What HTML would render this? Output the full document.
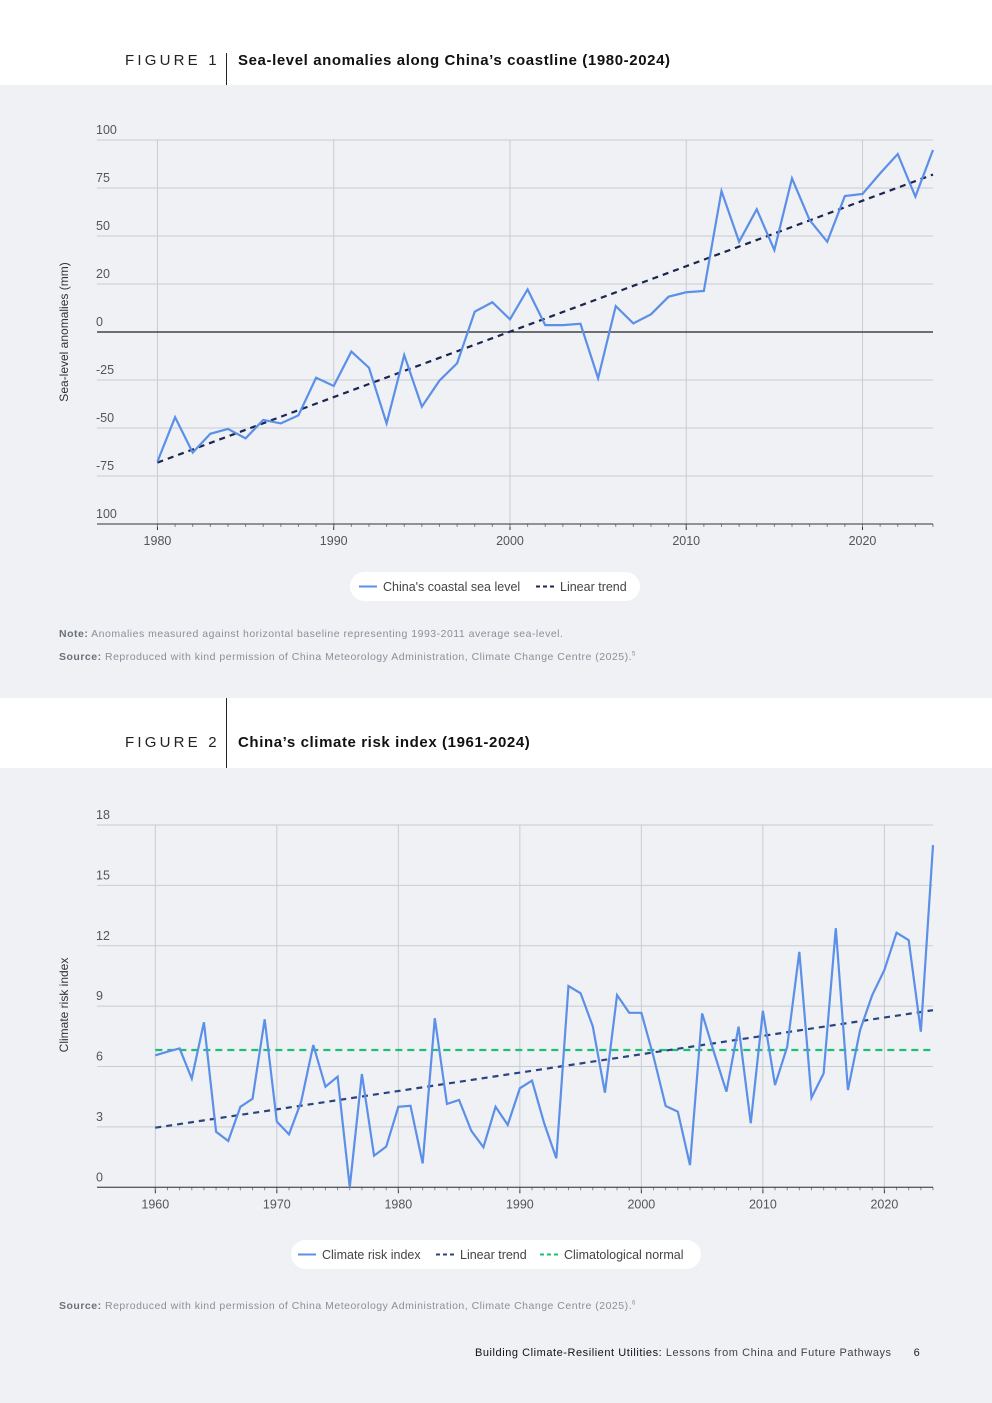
<!DOCTYPE html>
<html><head><meta charset="utf-8"><style>
body{margin:0;width:992px;height:1403px;position:relative;background:#fff;font-family:"Liberation Sans",sans-serif;overflow:hidden}
.panel{position:absolute;left:0;width:992px;background:#eff1f5}
.abs{position:absolute;white-space:nowrap}
.fig{font-size:15px;letter-spacing:3.2px;color:#222}
.ttl{font-size:15px;font-weight:bold;color:#111;letter-spacing:0.6px}
.div{position:absolute;width:1px;background:#222}
.note{font-size:10.5px;color:#8a8f99;letter-spacing:0.5px}
.note b{color:#6a707a}
svg text{font-family:"Liberation Sans",sans-serif}
</style></head><body>
<div class="panel" style="top:85px;height:613px"></div>
<div class="panel" style="top:768px;height:635px"></div>

<div class="abs fig" style="left:125px;top:52px">FIGURE 1</div>
<div class="div" style="left:226px;top:53px;height:32px"></div>
<div class="abs ttl" style="left:238px;top:52px">Sea-level anomalies along China’s coastline (1980-2024)</div>

<div class="abs fig" style="left:125px;top:734px">FIGURE 2</div>
<div class="div" style="left:226px;top:698px;height:70px"></div>
<div class="abs ttl" style="left:238px;top:734px">China’s climate risk index (1961-2024)</div>

<svg id="c1" class="abs" style="left:0;top:0" width="992" height="700"></svg>
<svg id="c2" class="abs" style="left:0;top:0" width="992" height="1403"></svg>

<div class="abs note" style="left:59px;top:628px"><b>Note:</b> Anomalies measured against horizontal baseline representing 1993-2011 average sea-level.</div>
<div class="abs note" style="left:59px;top:651px"><b>Source:</b> Reproduced with kind permission of China Meteorology Administration, Climate Change Centre (2025).<sup style="font-size:6px">5</sup></div>
<div class="abs note" style="left:59px;top:1300px"><b>Source:</b> Reproduced with kind permission of China Meteorology Administration, Climate Change Centre (2025).<sup style="font-size:6px">6</sup></div>
<div class="abs" style="left:475px;top:1347px;font-size:11px;color:#222;letter-spacing:0.55px"><span style="color:#111">Building Climate-Resilient Utilities:</span> <span style="color:#444">Lessons from China and Future Pathways</span><span style="margin-left:22px">6</span></div>

<script>
// ---- Figure 1 data ----
const years1 = [1980,1981,1982,1983,1984,1985,1986,1987,1988,1989,1990,1991,1992,1993,1994,1995,1996,1997,1998,1999,2000,2001,2002,2003,2004,2005,2006,2007,2008,2009,2010,2011,2012,2013,2014,2015,2016,2017,2018,2019,2020,2021,2022,2023,2024];
const seaLevel = [-67.5,-44.4,-62.8,-53,-50.5,-55.4,-45.8,-47.6,-43.4,-23.8,-28.1,-10.2,-18.6,-47.6,-12,-38.9,-25.3,-16.3,10.6,15.5,6.6,22.2,3.6,3.6,4.3,-24.1,13.5,4.5,9.2,18.4,20.7,21.4,73.4,47,63.9,42.7,80,58.3,47,70.8,71.9,82.6,92.7,70.5,94.8];
const trend1 = [[1980,-68],[2024,82]];
const yTicks1 = [100,75,50,25,0,-25,-50,-75,-100];
const yTickLabels1 = ["100","75","50","20","0","-25","-50","-75","100"];
const xTicks1 = [1980,1990,2000,2010,2020];

// ---- Figure 2 data ----
const years2 = [1960,1961,1962,1963,1964,1965,1966,1967,1968,1969,1970,1971,1972,1973,1974,1975,1976,1977,1978,1979,1980,1981,1982,1983,1984,1985,1986,1987,1988,1989,1990,1991,1992,1993,1994,1995,1996,1997,1998,1999,2000,2001,2002,2003,2004,2005,2006,2007,2008,2009,2010,2011,2012,2013,2014,2015,2016,2017,2018,2019,2020,2021,2022,2023,2024];
const riskIndex = [6.56,6.74,6.9,5.4,8.2,2.76,2.3,4.0,4.4,8.35,3.26,2.63,4.25,7.07,5.0,5.5,0,5.63,1.57,2.02,4.0,4.05,1.19,8.4,4.14,4.34,2.81,1.99,4.0,3.1,4.92,5.3,3.18,1.44,10.0,9.64,8.0,4.7,9.55,8.67,8.67,6.49,4.04,3.76,1.1,8.64,6.66,4.75,7.98,3.18,8.77,5.08,6.98,11.7,4.45,5.66,12.87,4.83,7.81,9.55,10.8,12.65,12.28,7.73,17.0];
const trend2 = [[1960,2.96],[2024,8.8]];
const normal2 = [[1960,6.82],[2024,6.82]];
const yTicks2 = [0,3,6,9,12,15,18];
const xTicks2 = [1960,1970,1980,1990,2000,2010,2020];

const NS='http://www.w3.org/2000/svg';
function mk(svg,tag,attrs,text){const e=document.createElementNS(NS,tag);for(const k in attrs)e.setAttribute(k,attrs[k]);if(text!==undefined)e.textContent=text;svg.appendChild(e);return e;}

function chart(svg,o){
  const X=v=>o.x0+(v-o.d0)/(o.d1-o.d0)*(o.x1-o.x0);
  const Y=v=>o.yb+(v-o.r0)/(o.r1-o.r0)*(o.yt-o.yb);
  o.yTicks.forEach((t,i)=>{
    const g=mk(svg,'line',{x1:o.x0,x2:o.x1,y1:Y(t),y2:Y(t),stroke:'#c8ccd3','stroke-width':1});
    
    
    const l=mk(svg,'text',{x:96,y:Y(t)-6,'font-size':12.5,fill:'#555'},o.yLabels[i]);
    
    
  });
  o.xTicks.forEach(t=>{
    const g=mk(svg,'line',{x1:X(t),x2:X(t),y1:o.yt,y2:o.yb,stroke:'#c8ccd3','stroke-width':1});
    
    
    const tk=mk(svg,'line',{x1:X(t),x2:X(t),y1:o.yb,y2:o.yb+6,stroke:'#333'});
    
    
    const l=mk(svg,'text',{x:X(t),y:o.yb+21,'font-size':12.5,fill:'#555','text-anchor':'middle'},String(t));
    
    
  });
  o.years.forEach(t=>{
    const tk=mk(svg,'line',{x1:X(t),x2:X(t),y1:o.yb,y2:o.yb+3,stroke:'#888'});
    
    
  });
  const ax=mk(svg,'line',{x1:o.x0,x2:o.x1,y1:o.yb,y2:o.yb,stroke:'#333'});
  
  
  if(o.zero){const z=mk(svg,'line',{x1:o.x0,x2:o.x1,y1:Y(0),y2:Y(0),stroke:'#222','stroke-width':1.2});
    
    }
  if(o.normal){const n=mk(svg,'line',{x1:X(o.normal[0][0]),x2:X(o.normal[1][0]),y1:Y(o.normal[0][1]),y2:Y(o.normal[1][1]),stroke:'#1dbf73','stroke-width':2.2,'stroke-dasharray':'7 5'});
    
    }
  const tr=mk(svg,'line',{x1:X(o.trend[0][0]),x2:X(o.trend[1][0]),y1:Y(o.trend[0][1]),y2:Y(o.trend[1][1]),stroke:o.trendColor,'stroke-width':2.2,'stroke-dasharray':'6 5'});
  
  
  const p=mk(svg,'polyline',{points:o.years.map((y,i)=>X(y)+','+Y(o.vals[i])).join(' '),fill:'none',stroke:'#5b8fe8','stroke-width':2.2,'stroke-linejoin':'miter'});
  
  
  const yt=mk(svg,'text',{x:0,y:0,'font-size':12,fill:'#333','text-anchor':'middle',transform:`translate(68,${o.ytY}) rotate(-90)`},o.ytitle);
  
  
}

const c1=document.getElementById('c1');
chart(c1,{x0:97,x1:933,d0:1976.57,d1:2024,yb:332+100*1.92,yt:332-100*1.92,r0:-100,r1:100,
  yTicks:yTicks1,yLabels:yTickLabels1,xTicks:xTicks1,years:years1,vals:seaLevel,trend:trend1,trendColor:'#1a2550',zero:true,ytitle:'Sea-level anomalies (mm)',ytY:332});
const c2=document.getElementById('c2');
chart(c2,{x0:97,x1:933,d0:1955.2,d1:2024,yb:1187.3,yt:825,r0:0,r1:18,
  yTicks:yTicks2,yLabels:yTicks2.map(String),xTicks:xTicks2,years:years2,vals:riskIndex,trend:trend2,trendColor:'#2a4480',normal:normal2,ytitle:'Climate risk index',ytY:1005});

function legend(svg,x,y,w,items){
  const r=mk(svg,'rect',{x:x,y:y,width:w,height:29,rx:14.5,fill:'#fff'});
  
  
  items.forEach(it=>{
    const l=mk(svg,'line',{x1:it.x,x2:it.x+18,y1:y+14.5,y2:y+14.5,stroke:it.c,'stroke-width':2,'stroke-dasharray':it.d||'none'});
    
    
    const t=mk(svg,'text',{x:it.x+24,y:y+19,'font-size':12.5,fill:'#444'},it.t);
    
    
  });
}
legend(c1,350,572,290,[{x:359,c:'#5b8fe8',t:"China's coastal sea level"},{x:536,c:'#1a2550',d:'4 3',t:'Linear trend'}]);
legend(c2,291,1240,410,[{x:298,c:'#5b8fe8',t:'Climate risk index'},{x:436,c:'#2a4480',d:'4 3',t:'Linear trend'},{x:540,c:'#1dbf73',d:'4 3',t:'Climatological normal'}]);
</script>
</body></html>
